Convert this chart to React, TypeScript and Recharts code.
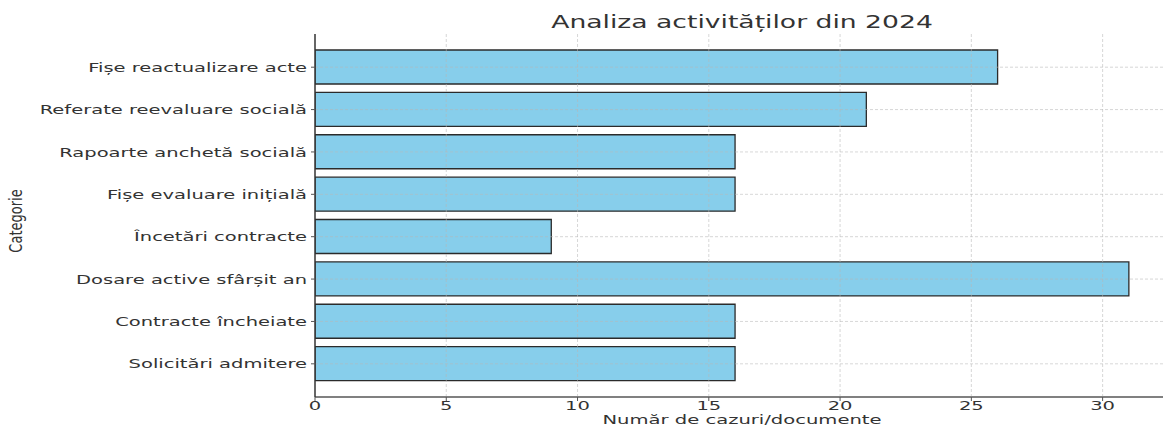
import React from "react";
import {
  BarChart,
  Bar,
  XAxis,
  YAxis,
  ReferenceLine,
} from "recharts";

// categories top -> bottom, as drawn
const categories = [
  "Fișe reactualizare acte",
  "Referate reevaluare socială",
  "Rapoarte anchetă socială",
  "Fișe evaluare inițială",
  "Încetări contracte",
  "Dosare active sfârșit an",
  "Contracte încheiate",
  "Solicitări admitere",
];
const counts = [26, 21, 16, 16, 9, 31, 16, 16];
const xTicks = [0, 5, 10, 15, 20, 25, 30];

const data = categories.map((name, i) => ({ name, value: counts[i] }));

const FONT = "'DejaVu Sans', sans-serif";
// the source image is stretched sideways, so text is widened to match

const YTick = (props: any) => {
  const { x, y, payload } = props;
  return (
    <g transform={`translate(${x},${y})`}>
      <text
        transform="scale(1.5,1)"
        textAnchor="end"
        dy="0.36em"
        fontFamily={FONT}
        fontSize={13}
        fill="#333"
      >
        {payload.value}
      </text>
    </g>
  );
};

const XTick = (props: any) => {
  const { x, y, payload } = props;
  return (
    <g transform={`translate(${x},${y})`}>
      <text
        transform="scale(1.7,1)"
        textAnchor="middle"
        dy={6.7}
        fontFamily={FONT}
        fontSize={11.5}
        fill="#333"
      >
        {payload.value}
      </text>
    </g>
  );
};

const App: React.FC = () => {
  return (
    <div
      style={{
        position: "fixed",
        left: 0,
        top: 0,
        width: 1164,
        height: 425,
        background: "#fff",
        overflow: "hidden",
      }}
    >
      <div
        style={{
          position: "absolute",
          left: 742,
          top: 10,
          transform: "translateX(-50%) scale(1.52,1)",
          fontFamily: FONT,
          fontSize: 17.5,
          color: "#333",
          whiteSpace: "nowrap",
          lineHeight: "24px",
        }}
      >
        Analiza activităților din 2024
      </div>
      <div
        style={{
          position: "absolute",
          left: 742,
          top: 413,
          transform: "translateX(-50%) scale(1.7,1)",
          fontFamily: FONT,
          fontSize: 11.5,
          color: "#333",
          whiteSpace: "nowrap",
          lineHeight: "14px",
        }}
      >
        Număr de cazuri/documente
      </div>
      <div
        style={{
          position: "absolute",
          left: 17,
          top: 221,
          transform: "translate(-50%,-50%) scale(1.3,1) rotate(-90deg)",
          fontFamily: FONT,
          fontSize: 13,
          color: "#333",
          whiteSpace: "nowrap",
          lineHeight: "16px",
        }}
      >
        Categorie
      </div>
      <BarChart
        width={1164}
        height={425}
        data={data}
        layout="vertical"
        margin={{ top: 34, right: 1, bottom: 0, left: 0 }}
      >
        <XAxis
          type="number"
          domain={[0, 32.3]}
          ticks={xTicks}
          height={28}
          tick={<XTick />}
          tickSize={4}
          tickMargin={2}
          axisLine={{ stroke: "#808080", strokeWidth: 2 }}
          tickLine={{ stroke: "#555" }}
          allowDataOverflow
        />
        <YAxis
          type="category"
          dataKey="name"
          width={315}
          padding={{ top: 12, bottom: 12 }}
          tick={<YTick />}
          tickSize={4}
          tickMargin={4}
          axisLine={{ stroke: "#333", strokeWidth: 1.5 }}
          tickLine={{ stroke: "#555" }}
          interval={0}
        />
        <Bar
          dataKey="value"
          fill="#87CEEB"
          stroke="#2b2b2b"
          strokeWidth={1.3}
          barSize={34}
          isAnimationActive={false}
        />
        {xTicks.slice(1).map((t) => (
          <ReferenceLine
            key={"x" + t}
            x={t}
            stroke="#b8b8b8"
            strokeOpacity={0.7}
            strokeDasharray="3 2"
            strokeWidth={0.8}
          />
        ))}
        {categories.map((c) => (
          <ReferenceLine
            key={"y" + c}
            y={c}
            stroke="#b8b8b8"
            strokeOpacity={0.7}
            strokeDasharray="3 2"
            strokeWidth={0.8}
          />
        ))}
      </BarChart>
    </div>
  );
};

export default App;
